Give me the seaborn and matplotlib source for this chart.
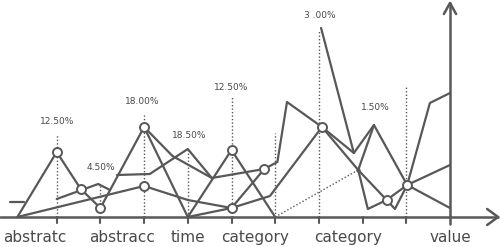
import matplotlib
matplotlib.use("Agg")
import matplotlib.pyplot as plt
import seaborn as sns
import pandas as pd

sns.set_theme(style="white")
plt.rcParams['font.family'] = ['DejaVu Sans']

GRAY = "#585858"

# ---------------- data ----------------
categories = ["abstratc", "abstracc", "time", "category", "category", "value"]
category_pos = [0.5, 2.5, 4.0, 5.54, 7.67, 10.0]

tick_pos = [1, 2, 3, 4, 5, 6, 7, 8, 9]

pct_labels = ["12.50%", "4.50%", "18.00%", "18.50%", "12.50%", "3 .00%", "1.50%"]
pct_x = [1.0, 2.0, 2.95, 4.03, 5.0, 7.03, 8.28]
pct_y = [96, 50, 116, 82, 129, 201, 110]

drop_x = [1, 2, 3, 4, 5, 6, 7, 9]
drop_top = [83, 33, 103, 68, 120, 84, 187, 132]
drop_bottom = [0, 9, 0, 0, 0, 0, 0, 0]

line_a_x = [0.1, 1, 1.55, 2, 3, 4, 5, 6]
line_a_y = [0, 65, 28, 9, 90, 0, 67, 0]
line_a_marks = [1, 2, 3, 4, 6]

dotted_x = [6, 7.9]
dotted_y = [0, 47]

line_b_x = [0.1, 3, 4, 5, 5.75, 6.05, 6.27, 7.07, 7.9, 8.55, 9.02, 10]
line_b_y = [0, 31, 17, 9, 48, 55, 115, 90, 47, 17, 32, 52]
line_b_marks = [1, 3, 4, 7, 9, 10]
line_b_dot = [8]

line_c_x = [1, 1.95, 2.22]
line_c_y = [18, 33, 27]

line_d_x = [2.38, 3.13, 4, 4.55, 5.75]
line_d_y = [42, 43, 68, 39, 48]

line_e_x = [3, 3.65, 4.55]
line_e_y = [90, 61, 39]

line_f_x = [4, 5]
line_f_y = [0, 9]

line_g_x = [5, 5.88, 7.07, 7.8, 8.26, 9.02, 10]
line_g_y = [9, 21, 90, 64, 92, 32, 9]

line_h_x = [7.05, 7.8]
line_h_y = [189, 64]

line_i_x = [8.26, 7.9, 8.12, 8.55, 8.74, 9.02, 9.54, 10]
line_i_y = [92, 47, 8, 17, 8, 32, 114, 124]

line_j_x = [-0.07, 0.25]
line_j_y = [15, 15]

# ---------------- figure ----------------
fig = plt.figure(figsize=(5.0, 2.47), dpi=100)
ax = fig.add_axes([0, 0, 1, 1])
ax.set_xlim(-13 / 43.7, 487 / 43.7)
ax.set_ylim(-30, 217)
ax.axis("off")

LW = 1.6

def draw(xs, ys, ls="-", lw=LW, color=GRAY, z=2):
    df = pd.DataFrame({"x": xs, "y": ys, "o": range(len(xs))})
    sns.lineplot(data=df, x="x", y="y", sort=False, estimator=None,
                 color=color, lw=lw, ls=ls, ax=ax, zorder=z)

# axes
draw([-0.3, 11.1], [0, 0], lw=1.8)
draw([10.85, 11.1, 10.85], [8, 0, -8], lw=1.8)
draw([10, 10], [-7, 214], lw=1.8)
draw([9.86, 10, 10.14], [203, 214, 203], lw=1.8)
for t in tick_pos:
    draw([t, t], [0, -6], lw=1.5)

# drop lines
for x, top, bot in zip(drop_x, drop_top, drop_bottom):
    draw([x, x], [bot, top], ls=(0, (1, 1.5)), lw=1.0, z=1)

# data lines
draw(line_a_x, line_a_y)
draw(dotted_x, dotted_y, ls=(0, (1, 1.5)), lw=1.0)
draw(line_b_x, line_b_y)
draw(line_c_x, line_c_y)
draw(line_d_x, line_d_y)
draw(line_e_x, line_e_y)
draw(line_f_x, line_f_y)
draw(line_g_x, line_g_y)
draw(line_h_x, line_h_y)
draw(line_i_x, line_i_y)
draw(line_j_x, line_j_y)

# markers
mx = [line_a_x[i] for i in line_a_marks] + [line_b_x[i] for i in line_b_marks]
my = [line_a_y[i] for i in line_a_marks] + [line_b_y[i] for i in line_b_marks]
sns.scatterplot(x=mx, y=my, s=42, facecolor="white", edgecolor=GRAY,
                linewidth=1.4, ax=ax, zorder=5)
sns.scatterplot(x=[line_b_x[i] for i in line_b_dot], y=[line_b_y[i] for i in line_b_dot],
                s=10, color=GRAY, linewidth=0, ax=ax, zorder=5)

# percentage labels
for lab, x, y in zip(pct_labels, pct_x, pct_y):
    ax.text(x, y, lab, ha="center", va="center", fontsize=6.5, color="#4a4a4a")

# category labels
for lab, x in zip(categories, category_pos):
    ax.text(x, -20, lab, ha="center", va="center", fontsize=11, color="#4a4a4a")

fig.savefig("out.png", dpi=100, facecolor="white")
